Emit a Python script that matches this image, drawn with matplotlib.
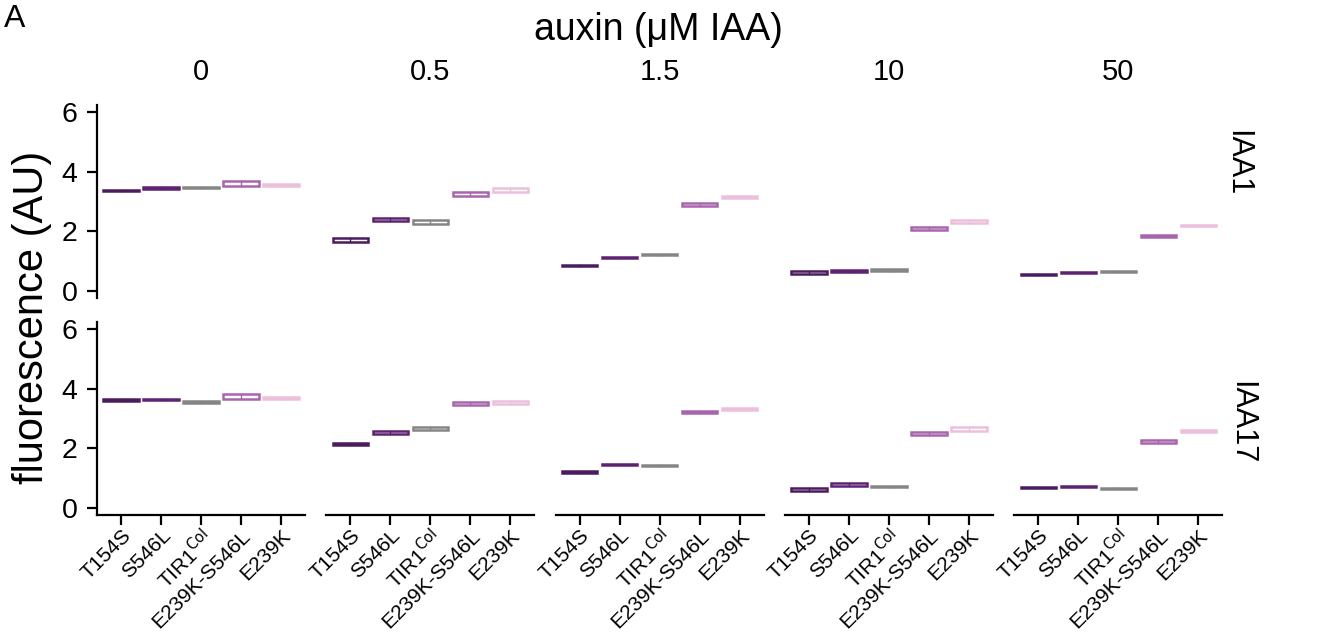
import matplotlib
matplotlib.use("Agg")
import matplotlib.pyplot as plt
from matplotlib.patches import Rectangle
import numpy as np

plt.rcParams['font.family'] = ['Liberation Sans', 'DejaVu Sans']

genotypes = ["T154S", "S546L", "TIR1$^{\\mathrm{Col}}$", "E239K-S546L", "E239K"]
colors = ["#4a1b5e", "#5e2272", "#858585", "#a964ae", "#ecbfdb"]
concentrations = ["0", "0.5", "1.5", "10", "50"]
reporters = ["IAA1", "IAA17"]

# mean fluorescence, rows = concentration, cols = genotype
iaa1_mean = [
    [3.38, 3.45, 3.47, 3.61, 3.56],
    [1.70, 2.39, 2.31, 3.26, 3.39],
    [0.85, 1.11, 1.21, 2.90, 3.16],
    [0.62, 0.66, 0.70, 2.10, 2.32],
    [0.55, 0.60, 0.63, 1.83, 2.18],
]
iaa1_se = [
    [0.02, 0.03, 0.02, 0.08, 0.035],
    [0.065, 0.05, 0.06, 0.06, 0.07],
    [0.02, 0.02, 0.02, 0.05, 0.03],
    [0.05, 0.045, 0.03, 0.05, 0.05],
    [0.025, 0.02, 0.02, 0.03, 0.02],
]
iaa17_mean = [
    [3.62, 3.63, 3.57, 3.73, 3.69],
    [2.13, 2.53, 2.67, 3.51, 3.55],
    [1.20, 1.45, 1.42, 3.21, 3.33],
    [0.61, 0.77, 0.70, 2.49, 2.65],
    [0.67, 0.70, 0.64, 2.24, 2.58],
]
iaa17_se = [
    [0.03, 0.02, 0.035, 0.085, 0.035],
    [0.03, 0.05, 0.06, 0.04, 0.05],
    [0.02, 0.02, 0.02, 0.04, 0.03],
    [0.05, 0.06, 0.02, 0.05, 0.06],
    [0.02, 0.02, 0.02, 0.05, 0.03],
]
yticks = [0, 2, 4, 6]

W, H = 1344, 638
fig = plt.figure(figsize=(W / 100, H / 100), dpi=100)

def fx(px):
    return px / W

def fy(py):
    return 1 - py / H

col_left = [97 + 229.3 * i for i in range(5)]
col_w = 208
row_top = [105, 322]
row_h = 193

data = [(iaa1_mean, iaa1_se), (iaa17_mean, iaa17_se)]
x = np.arange(1, 6)
bw = 0.88

for r in range(2):
    means, ses = data[r]
    for c in range(5):
        ax = fig.add_axes([fx(col_left[c]), fy(row_top[r] + row_h), fx(col_w), row_h / H])
        ax.set_xlim(0.4, 5.6)
        ax.set_ylim(-0.25, 6.25)
        for s in ["top", "right"]:
            ax.spines[s].set_visible(False)
        for g in range(5):
            m = means[c][g]
            se = ses[c][g]
            rect = Rectangle((x[g] - bw / 2, m - se), bw, 2 * se,
                             facecolor="white", edgecolor=colors[g], linewidth=1.8,
                             joinstyle="miter")
            ax.add_patch(rect)
            ax.plot([x[g], x[g]], [m - se, m + se], color=colors[g], lw=1.0)
        ax.set_yticks(yticks)
        ax.set_xticks(x)
        ax.tick_params(axis="both", width=1.6, length=7.5, labelsize=20.5, color="black")
        ax.tick_params(axis="y", pad=6.5)
        if c == 0:
            ax.spines["left"].set_linewidth(1.6)
        else:
            ax.spines["left"].set_visible(False)
            ax.tick_params(axis="y", left=False, labelleft=False)
        if r == 1:
            ax.spines["bottom"].set_linewidth(1.6)
            ax.set_xticklabels(genotypes, rotation=45, ha="right", rotation_mode="anchor",
                               fontsize=15)
            ax.tick_params(axis="x", pad=0.5)
        else:
            ax.spines["bottom"].set_visible(False)
            ax.tick_params(axis="x", bottom=False, labelbottom=False)
        if r == 0:
            ax.text(0.5, (row_top[0] + row_h - 72.5) / row_h, concentrations[c],
                    transform=ax.transAxes, fontsize=21, ha="center", va="center")
        if c == 4:
            if r == 0:
                ax.text(1.07, 0.70, reporters[r], transform=ax.transAxes,
                        rotation=-90, fontsize=22, ha="center", va="center")
            else:
                ax.text(1.09, 0.48, reporters[r], transform=ax.transAxes,
                        rotation=-90, fontsize=22, ha="center", va="center")

fig.text(fx(658), fy(30), "auxin (μM IAA)", fontsize=27, ha="center", va="center")
fig.text(fx(32), fy(317), "fluorescence (AU)", fontsize=30, ha="center", va="center",
         rotation=90)
fig.text(fx(4), fy(19), "A", fontsize=23, ha="left", va="center")

fig.savefig("out.png", dpi=100)
